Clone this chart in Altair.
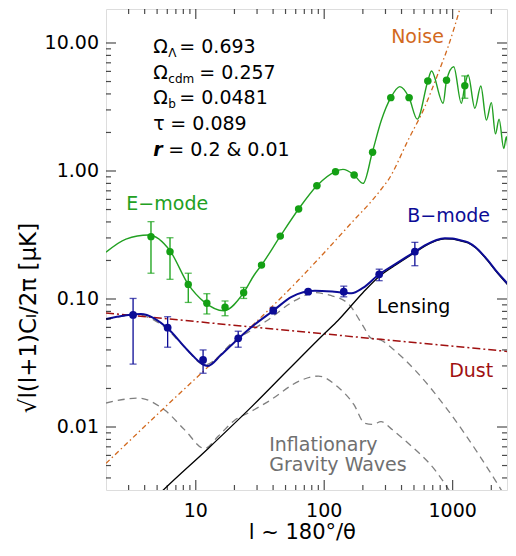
import altair as alt
import pandas as pd

# ---------------- data ----------------
# E-mode theory curve
ell_E = [2, 2.86, 4.3, 6.3, 8.74, 11.6, 16.5, 23.6, 28.5, 32.5, 45.5, 63.2, 87.7,
         122, 140, 171, 201, 237, 279, 330, 388, 458, 530, 641, 684, 843, 896,
         1020, 1169, 1244, 1320, 1489, 1657, 1832, 2003, 2153, 2300, 2500, 2623,
         2785, 3000]
cl_E = [0.232, 0.294, 0.316, 0.238, 0.130, 0.095, 0.081, 0.112, 0.154, 0.184,
        0.31, 0.505, 0.768, 0.99, 1.03, 0.93, 0.80, 1.40, 2.5, 3.74, 4.56, 3.74,
        2.54, 5.05, 6.04, 3.38, 5.11, 6.53, 3.38, 4.64, 5.62, 3.09, 4.61, 2.50,
        3.42, 1.95, 2.54, 1.50, 1.85, 1.08, 1.22]

# E-mode band powers
ell_Ep = [4.48, 6.3, 8.74, 12.2, 16.9, 23.6, 32.5, 45.5, 63.2, 87.7, 122.5, 171,
          238, 330, 458, 641, 896, 1244]
Ep = [0.307, 0.234, 0.130, 0.0925, 0.0861, 0.112, 0.184, 0.31, 0.505, 0.768,
      0.987, 0.93, 1.40, 3.74, 3.74, 5.05, 5.11, 4.64]
Ep_lo = [0.159, 0.1425, 0.094, 0.0764, 0.074, 0.101, 0.180, 0.305, 0.498, 0.760,
         0.977, 0.92, 1.385, 3.70, 3.70, 4.98, 5.04, 3.70]
Ep_hi = [0.402, 0.301, 0.159, 0.110, 0.0965, 0.123, 0.188, 0.315, 0.512, 0.776,
         0.997, 0.94, 1.415, 3.78, 3.78, 5.12, 5.18, 5.53]

# B-mode total theory curve
ell_B = [2, 3.74, 4.74, 6.04, 8.6, 11.6, 12.4, 15.7, 21.4, 28.4, 40.1, 55.7, 84.5,
         120, 163, 200, 268, 350, 508, 607, 869, 1000, 1105, 1320, 1500, 1779,
         2260, 2870, 3000]
cl_B = [0.0698, 0.0763, 0.0707, 0.059, 0.040, 0.0305, 0.030, 0.0365, 0.049,
        0.0626, 0.081, 0.104, 0.116, 0.114, 0.111, 0.122, 0.156, 0.185, 0.234,
        0.262, 0.298, 0.297, 0.29, 0.277, 0.255, 0.214, 0.159, 0.121, 0.114]

# B-mode band powers
ell_Bp = [3.25, 6.04, 11.4, 21.4, 40.1, 75, 142, 268, 508]
Bp = [0.075, 0.0597, 0.0334, 0.0493, 0.081, 0.114, 0.114, 0.156, 0.234]
Bp_lo = [0.031, 0.042, 0.0263, 0.042, 0.077, 0.111, 0.104, 0.139, 0.182]
Bp_hi = [0.101, 0.0727, 0.040, 0.056, 0.086, 0.117, 0.126, 0.171, 0.277]

# Lensing B-mode (runs just under the total B-mode curve at high l)
ell_L = [4, 5.2, 12.5, 25.7, 52.5, 101, 128, 200, 268, 350, 508, 607, 869,
         1000, 1105, 1320, 1500, 1779, 2260, 2870, 3000]
cl_L = [0.0023, 0.003, 0.0068, 0.0136, 0.028, 0.054, 0.068, 0.112, 0.150,
        0.181, 0.231, 0.259, 0.295, 0.294, 0.287, 0.274, 0.252, 0.212, 0.157,
        0.119, 0.112]

# Inflationary gravity waves, r = 0.2
ell_G2 = [2, 3.5, 5.76, 8.2, 11.7, 20, 36, 60, 85, 110, 153, 200, 233, 277, 350,
          508, 920, 1650, 2400, 3000]
cl_G2 = [0.069, 0.075, 0.06, 0.042, 0.0306, 0.047, 0.068, 0.098, 0.112, 0.107,
         0.0925, 0.062, 0.0493, 0.0476, 0.04, 0.0279, 0.0135, 0.0058, 0.0032,
         0.0022]

# Inflationary gravity waves, r = 0.01
ell_G1 = [2, 3.56, 5.76, 8.2, 11.7, 15, 20.2, 25.7, 36.6, 66.7, 90, 128, 170, 207,
          240, 277, 340, 451, 730, 980, 1200]
cl_G1 = [0.0154, 0.0168, 0.0135, 0.0095, 0.0068, 0.0085, 0.01135, 0.0129,
         0.0158, 0.0233, 0.025, 0.0205, 0.015, 0.0107, 0.0105, 0.011, 0.0095,
         0.00746, 0.0046, 0.003, 0.0022]

# Dust foreground
ell_D = [2, 277, 3000]
cl_D = [0.0778, 0.0484, 0.0385]

# Noise
ell_N = [2, 5, 10, 20, 30.6, 62.8, 100, 173, 240, 288, 315, 451, 608, 771, 922,
         1164, 1300]
cl_N = [0.0052, 0.0125, 0.024, 0.046, 0.0685, 0.14, 0.23, 0.42, 0.6, 0.754,
        0.85, 1.75, 3.18, 5.8, 9.35, 20, 30]

# axis ranges, ticks and tick labels
x_domain = [2, 2650]
y_domain = [0.00322, 18.43]
x_major = [10, 100, 1000]
x_labels = ["10", "100", "1000"]
x_minor = [3, 4, 5, 6, 7, 8, 9, 20, 30, 40, 50, 60, 70, 80, 90,
           200, 300, 400, 500, 600, 700, 800, 900, 2000]
y_major = [0.01, 0.1, 1, 10]
y_labels = ["0.01", "0.10", "1.00", "10.00"]
y_minor = [0.004, 0.005, 0.006, 0.007, 0.008, 0.009,
           0.02, 0.03, 0.04, 0.05, 0.06, 0.07, 0.08, 0.09,
           0.2, 0.3, 0.4, 0.5, 0.6, 0.7, 0.8, 0.9,
           2, 3, 4, 5, 6, 7, 8, 9]
x_title = "l ~ 180\u00b0/\u03b8"
y_title = "\u221al(l+1)C\u2097/2\u03c0 [\u03bcK]"
x_title_l = 67.5      # where the x title is centred (in l)
y_title_v = 0.071     # where the y title is centred (in value)

# labels (anchor in data coordinates)
lab_text = ["Noise", "E\u2212mode", "B\u2212mode", "Lensing", "Dust",
            "Inflationary", "Gravity Waves"]
lab_l = [332, 2.88, 443, 258, 940, 37.3, 37.3]
lab_v = [9.94, 0.496, 0.40, 0.0778, 0.0246, 0.00650, 0.00450]
lab_col = ["#d2691e", "#22a022", "#0c0c96", "#000000", "#a01010",
           "#707070", "#707070"]

par_sym = ["\u03a9", "\u03a9", "\u03a9", "\u03c4"]
par_sub = ["\u039b", "cdm", "b", ""]
par_val = ["=  0.693", "=  0.257", "=  0.0481", "=  0.089"]
par_l = [4.67, 4.67, 4.67, 4.67]
par_v = [8.35, 5.23, 3.31, 2.09]
r_val = ["=  0.2 & 0.01"]
r_v = [1.32]

# ---------------- chart ----------------
W, H = 401, 481
FONT = "DejaVu Sans"
xs = alt.Scale(type="log", domain=x_domain, nice=False)
ys = alt.Scale(type="log", domain=y_domain, nice=False)


def X(f="l", **kw):
    return alt.X(f"{f}:Q", scale=xs, axis=None, **kw)


def Y(f="v", **kw):
    return alt.Y(f"{f}:Q", scale=ys, axis=None, **kw)


def curve(ell, vals, color, width=1.3, dash=None, interp="monotone"):
    df = pd.DataFrame({"l": ell, "v": vals})
    kw = dict(color=color, strokeWidth=width, clip=True, interpolate=interp)
    if dash:
        kw["strokeDash"] = dash
    return alt.Chart(df).mark_line(**kw).encode(x=X(), y=Y(), order="l:Q")


gw2 = curve(ell_G2, cl_G2, "#808080", 1.3, [7, 5])
gw1 = curve(ell_G1, cl_G1, "#808080", 1.3, [7, 5])
dust = curve(ell_D, cl_D, "#a01010", 1.5, [8, 3, 2, 3], "linear")
noise = curve(ell_N, cl_N, "#d2691e", 1.3, [5, 3, 1.5, 3])
lens = curve(ell_L, cl_L, "#000000", 1.3)
eline = curve(ell_E, cl_E, "#22a022", 1.4)
bline = curve(ell_B, cl_B, "#0c0c96", 2.0)


def points(ell, v, lo, hi, color, size):
    df = pd.DataFrame({"l": ell, "v": v, "lo": lo, "hi": hi})
    base = alt.Chart(df)
    rule = base.mark_rule(color=color, strokeWidth=1.3, clip=True).encode(
        x=X(), y=Y("lo"), y2="hi:Q")
    cap1 = base.mark_tick(color=color, orient="horizontal", size=7,
                          thickness=1.3, clip=True).encode(x=X(), y=Y("lo"))
    cap2 = base.mark_tick(color=color, orient="horizontal", size=7,
                          thickness=1.3, clip=True).encode(x=X(), y=Y("hi"))
    dots = base.mark_circle(color=color, size=size, opacity=1,
                            clip=True).encode(x=X(), y=Y())
    return [rule, cap1, cap2, dots]


epts = points(ell_Ep, Ep, Ep_lo, Ep_hi, "#14a014", 55)
bpts = points(ell_Bp, Bp, Bp_lo, Bp_hi, "#0c0c96", 60)

labdf = pd.DataFrame({"t": lab_text, "l": lab_l, "v": lab_v, "c": lab_col})
labels = alt.Chart(labdf).mark_text(
    align="left", baseline="alphabetic", font=FONT, fontSize=19).encode(
    x=X(), y=Y(), text="t:N", color=alt.Color("c:N", scale=None))

pardf = pd.DataFrame({"s": par_sym, "b": par_sub, "r": par_val,
                      "l": par_l, "v": par_v})
psym = alt.Chart(pardf).mark_text(
    align="left", baseline="alphabetic", font=FONT, fontSize=19,
    color="black").encode(x=X(), y=Y(), text="s:N")
psub = alt.Chart(pardf).mark_text(
    align="left", baseline="alphabetic", font=FONT, fontSize=12, dx=15, dy=4,
    color="black").encode(x=X(), y=Y(), text="b:N")
pval = alt.Chart(pardf.iloc[[0, 2]]).mark_text(
    align="left", baseline="alphabetic", font=FONT, fontSize=19, dx=26,
    color="black").encode(x=X(), y=Y(), text="r:N")
pval2 = alt.Chart(pardf.iloc[[1]]).mark_text(
    align="left", baseline="alphabetic", font=FONT, fontSize=19, dx=46,
    color="black").encode(x=X(), y=Y(), text="r:N")
pval3 = alt.Chart(pardf.iloc[[3]]).mark_text(
    align="left", baseline="alphabetic", font=FONT, fontSize=19, dx=17,
    color="black").encode(x=X(), y=Y(), text="r:N")
rdf = pd.DataFrame({"s": ["r"], "r": r_val, "l": par_l[:1], "v": r_v})
rsym = alt.Chart(rdf).mark_text(
    align="left", baseline="alphabetic", font=FONT, fontSize=19,
    fontWeight="bold", fontStyle="italic",
    color="black").encode(x=X(), y=Y(), text="s:N")
rval = alt.Chart(rdf).mark_text(
    align="left", baseline="alphabetic", font=FONT, fontSize=19, dx=15,
    color="black").encode(x=X(), y=Y(), text="r:N")


# ---- axes drawn as marks: inward ticks, tick labels and titles ----
def edge_ticks(vals, size, side):
    n = len(vals)
    if side in ("left", "right"):
        edge = x_domain[0] if side == "left" else x_domain[1]
        df = pd.DataFrame({"v": vals, "l": [edge] * n})
        off = size / 2 if side == "left" else -size / 2
        return alt.Chart(df).mark_tick(
            orient="horizontal", size=size, thickness=1.2, color="black",
            xOffset=off).encode(x=X(), y=Y())
    edge = y_domain[0] if side == "bottom" else y_domain[1]
    df = pd.DataFrame({"l": vals, "v": [edge] * n})
    off = -size / 2 if side == "bottom" else size / 2
    return alt.Chart(df).mark_tick(
        orient="vertical", size=size, thickness=1.2, color="black",
        yOffset=off).encode(x=X(), y=Y())


ticks = []
for side in ("left", "right"):
    ticks.append(edge_ticks(y_major, 10, side))
    ticks.append(edge_ticks(y_minor, 5, side))
for side in ("bottom", "top"):
    ticks.append(edge_ticks(x_major, 10, side))
    ticks.append(edge_ticks(x_minor, 5, side))

xlab_df = pd.DataFrame({"l": x_major, "t": x_labels,
                        "v": [y_domain[0]] * len(x_major)})
xlabels = alt.Chart(xlab_df).mark_text(
    align="center", baseline="top", font=FONT, fontSize=19, color="black",
    dy=12).encode(x=X(), y=Y(), text="t:N")
ylab_df = pd.DataFrame({"v": y_major, "t": y_labels,
                        "l": [x_domain[0]] * len(y_major)})
ylabels = alt.Chart(ylab_df).mark_text(
    align="right", baseline="middle", font=FONT, fontSize=19, color="black",
    dx=-7).encode(x=X(), y=Y(), text="t:N")

xt_df = pd.DataFrame({"l": [x_title_l], "v": [y_domain[0]], "t": [x_title]})
xtitle = alt.Chart(xt_df).mark_text(
    align="center", baseline="alphabetic", font=FONT, fontSize=21,
    color="black", dy=49).encode(x=X(), y=Y(), text="t:N")
yt_df = pd.DataFrame({"l": [x_domain[0]], "v": [y_title_v], "t": [y_title]})
ytitle = alt.Chart(yt_df).mark_text(
    align="center", baseline="alphabetic", font=FONT, fontSize=23,
    color="black", angle=270, dy=-70).encode(x=X(), y=Y(), text="t:N")

chart = alt.layer(
    gw2, gw1, dust, noise, lens, eline, bline, *epts, *bpts,
    labels, psym, psub, pval, pval2, pval3, rsym, rval,
    *ticks, xlabels, ylabels, xtitle, ytitle,
).properties(
    width=W, height=H,
    autosize=alt.AutoSizeParams(type="none"),
    padding={"left": 98, "top": 1, "right": 1, "bottom": 54},
).configure_view(stroke="black", strokeWidth=1.5).configure(background="white")

chart.save("out.html", embed_options={"renderer": "svg", "actions": False})
